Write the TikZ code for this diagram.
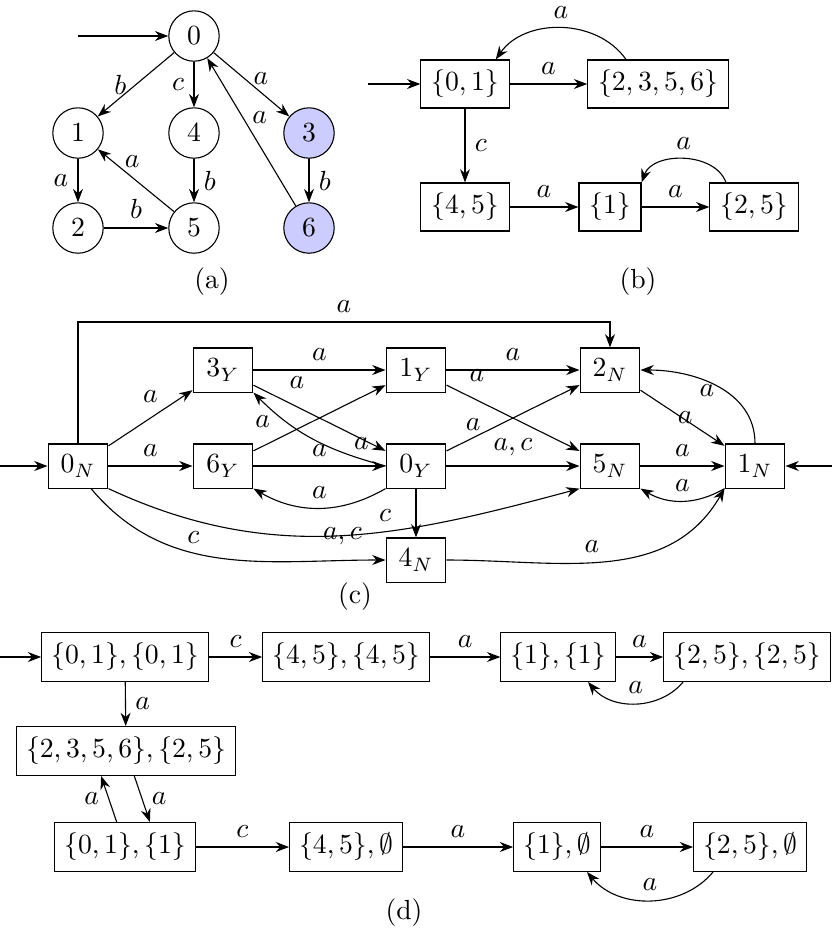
\documentclass[tikz,border=0pt]{standalone}
\usetikzlibrary{arrows.meta}
\begin{document}
\begin{tikzpicture}[x=0.0127cm, y=-0.0127cm, >=Stealth,
    state/.style={circle, draw, minimum size=0.64cm, inner sep=0pt},
    box/.style={rectangle, draw, minimum height=0.61cm, inner xsep=0.13cm},
    cbox/.style={rectangle, draw, minimum height=0.56cm, minimum width=0.76cm, inner sep=1pt},
    dbox/.style={rectangle, draw, minimum height=0.62cm, inner xsep=0.12cm}]
\useasboundingbox (0,0) rectangle (832,939);
% (a)
\node[state] (A0) at (194,36) {$0$};
\node[state] (A1) at (78,133) {$1$};
\node[state] (A4) at (194,133) {$4$};
\node[state, fill=blue!20] (A3) at (309,133) {$3$};
\node[state] (A2) at (78,228) {$2$};
\node[state] (A5) at (194,228) {$5$};
\node[state, fill=blue!20] (A6) at (309,228) {$6$};
\coordinate (Ain) at (78,36);
\draw[->] (Ain) -- (A0);
\draw[->] (A0) -- (A1) node[left, midway] {$b$};
\draw[->] (A0) -- (A4) node[left, midway] {$c$};
\draw[->] (A0) -- (A3) node[right, pos=0.4] {$a$};
\draw[->] (A1) -- (A2) node[left, midway] {$a$};
\draw[->] (A4) -- (A5) node[right, midway] {$b$};
\draw[->] (A3) -- (A6) node[right, midway] {$b$};
\draw[->] (A2) -- (A5) node[above, midway] {$b$};
\draw[->] (A5) -- (A1) node[above, pos=0.55] {$a$};
\draw[->] (A6) -- (A0) node[right, pos=0.6] {$a$};
\node (capa) at (212,282) {(a)};
% (b)
\node[box] (B01) at (465,84) {$\{0,1\}$};
\node[box] (B2356) at (658,84) {$\{2,3,5,6\}$};
\node[box] (B45) at (465,207) {$\{4,5\}$};
\node[box] (B1) at (610,207) {$\{1\}$};
\node[box] (B25) at (754,207) {$\{2,5\}$};
\coordinate (Bin) at (368,84);
\draw[->] (Bin) -- (B01);
\draw[->] (B01) -- (B2356) node[above, midway] {$a$};
\draw[->] ([xshift=14pt]B2356.north west) to[bend right=55] node[above] {$a$} ([xshift=-5pt]B01.north east);
\draw[->] (B01) -- (B45) node[right, midway] {$c$};
\draw[->] (B45) -- (B1) node[above, midway] {$a$};
\draw[->] (B1) -- (B25) node[above, midway] {$a$};
\draw[->] ([xshift=6pt]B25.north west) to[bend right=70] node[above] {$a$} (B1.north east);
\node (capb) at (638,282) {(b)};
% (c)
\node[cbox] (C0N) at (78,466) {$0_N$};
\node[cbox] (C3Y) at (223,370) {$3_Y$};
\node[cbox] (C6Y) at (223,466) {$6_Y$};
\node[cbox] (C1Y) at (416,370) {$1_Y$};
\node[cbox] (C0Y) at (416,466) {$0_Y$};
\node[cbox] (C2N) at (610,370) {$2_N$};
\node[cbox] (C5N) at (610,466) {$5_N$};
\node[cbox] (C1N) at (755,466) {$1_N$};
\node[cbox] (C4N) at (416,560) {$4_N$};
\coordinate (Cinl) at (0,466);
\coordinate (Cinr) at (832,466);
\draw[->] (Cinl) -- (C0N);
\draw[->] (Cinr) -- (C1N);
\draw[->] (C0N.north) |- (78,322) -| node[above, pos=0.25] {$a$} (C2N.north);
\draw[->] (C0N) -- (C3Y) node[above=2pt, midway] {$a$};
\draw[->] (C0N) -- (C6Y) node[above, midway] {$a$};
\draw[->] (C3Y) -- (C1Y) node[above, midway] {$a$};
\draw[->] (C1Y) -- (C2N) node[above, midway] {$a$};
\draw[->] (C3Y) -- (C0Y) node[above right, pos=0.2] {$a$};
\draw[->] (C0Y.west) to[out=165, in=-45] node[above, pos=0.15] {$a$} (C3Y.south east);
\draw[->] (C6Y) -- (C1Y) node[above left, pos=0.2] {$a$};
\draw[->] (C6Y) -- (C0Y) node[above, midway] {$a$};
\draw[->] (C0Y.south west) to[bend left=30] node[above] {$a$} (C6Y.south east);
\draw[->] (C1Y) -- (C5N) node[above right, pos=0.1] {$a$};
\draw[->] (C0Y) -- (C2N) node[above=-1pt, pos=0.2] {$a$};
\draw[->] (C0Y) -- (C5N) node[above, midway] {$a,c$};
\draw[->] (C2N) -- (C1N) node[midway, xshift=1pt] {$a$};
\draw[->] (C1N.north) to[out=90, in=0] node[left, pos=0.45] {$a$} (C2N.east);
\draw[->] (C5N) -- (C1N) node[above, midway] {$a$};
\draw[->] (C1N.south west) to[bend left=30] node[above] {$a$} (C5N.south east);
\draw[->] (C0N.south east) to[out=-25, in=195] node[above, pos=0.6] {$c$} (C5N.south west);
\draw[->] (C0N.300) to[out=-50, in=180] node[above, pos=0.4] {$c$} (C4N.west);
\draw[->] (C0Y) -- (C4N) node[left, pos=0.98, xshift=-16pt] {$a,c$};
\draw[->] (C4N.east) to[out=0, in=-120] node[above, pos=0.45] {$a$} (C1N.south west);
\node (capc) at (355,597) {(c)};
% (d)
\node[dbox] (D0101) at (125,657) {$\{0,1\},\{0,1\}$};
\node[dbox] (D4545) at (346,657) {$\{4,5\},\{4,5\}$};
\node[dbox] (D11) at (558,657) {$\{1\},\{1\}$};
\node[dbox] (D2525) at (747,657) {$\{2,5\},\{2,5\}$};
\node[dbox] (D2356) at (126,751) {$\{2,3,5,6\},\{2,5\}$};
\node[dbox] (D011) at (125,847) {$\{0,1\},\{1\}$};
\node[dbox] (D45e) at (346,847) {$\{4,5\},\emptyset$};
\node[dbox] (D1e) at (557,847) {$\{1\},\emptyset$};
\node[dbox] (D25e) at (750,847) {$\{2,5\},\emptyset$};
\coordinate (Din) at (0,657);
\draw[->] (Din) -- (D0101);
\draw[->] (D0101) -- (D4545) node[above, midway] {$c$};
\draw[->] (D4545) -- (D11) node[above, midway] {$a$};
\draw[->] (D11) -- (D2525) node[above, midway] {$a$};
\draw[->] (D2525.south west) ++(20,0) to[bend left=50] node[above] {$a$} ([xshift=-10pt]D11.south east);
\draw[->] (D0101) -- (D2356) node[right, midway] {$a$};
\draw[->] ([xshift=3pt]D2356.south) -- ([xshift=9pt]D011.north) node[right, midway] {$a$};
\draw[->] ([xshift=-3pt]D011.north) -- ([xshift=-9pt]D2356.south) node[left, midway] {$a$};
\draw[->] (D011) -- (D45e) node[above, midway] {$c$};
\draw[->] (D45e) -- (D1e) node[above, midway] {$a$};
\draw[->] (D1e) -- (D25e) node[above, midway] {$a$};
\draw[->] (D25e.south west) ++(20,0) to[bend left=50] node[above] {$a$} ([xshift=-5pt]D1e.south east);
\node (capd) at (404,913) {(d)};
\end{tikzpicture}
\end{document}
